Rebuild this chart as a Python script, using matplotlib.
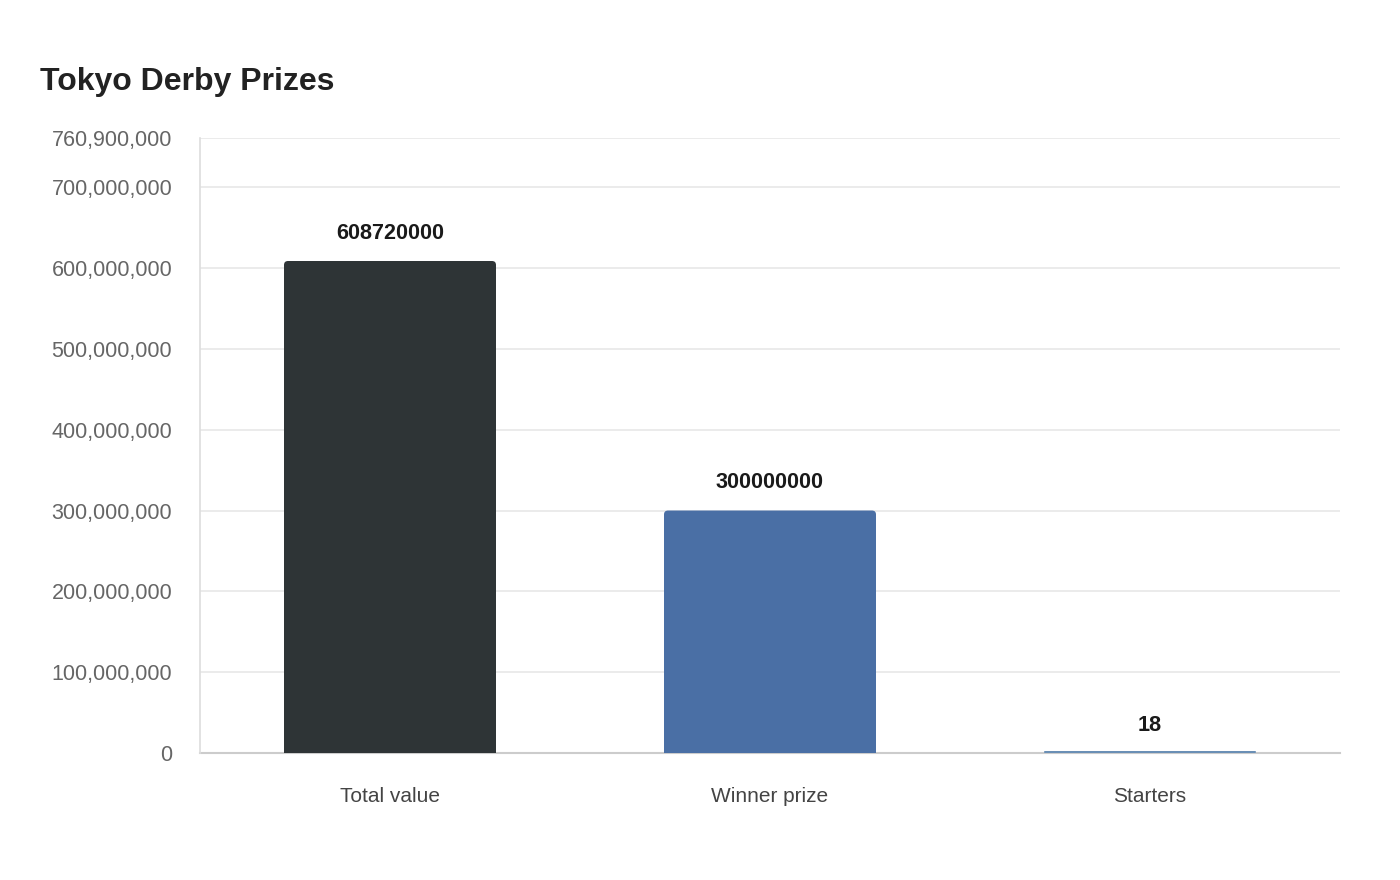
import matplotlib
matplotlib.use("Agg")
import matplotlib.pyplot as plt
from matplotlib.ticker import FuncFormatter
from matplotlib.patches import FancyBboxPatch

categories = ["Total value", "Winner prize", "Starters"]
values = [608720000, 300000000, 18]
colors = ["#2e3436", "#4a6fa5", "#6a8fb5"]
yticks = [0, 100000000, 200000000, 300000000, 400000000, 500000000, 600000000, 700000000, 760900000]
y_max = 760900000
title = "Tokyo Derby Prizes"

plt.rcParams['font.family'] = ['Liberation Sans', 'DejaVu Sans']

fig = plt.figure(figsize=(14, 8.8), dpi=100)
ax_w_px, ax_h_px = 1140, 615
ax = fig.add_axes([200/1400, 1-753/880, ax_w_px/1400, ax_h_px/880])

x = list(range(len(categories)))
bar_w = 212/380
bars = ax.bar(x, values, width=bar_w, color=colors, zorder=3)
ax.set_xlim(-0.5, 2.5)
ax.set_ylim(0, y_max)

# replace bars with slightly rounded boxes
x_per_px = 3.0 / ax_w_px
y_per_px = y_max / ax_h_px
for b, c in zip(bars, colors):
    b.set_visible(False)
    h = max(b.get_height(), 2 * y_per_px)
    p = FancyBboxPatch((b.get_x(), 0), b.get_width(), h,
                       boxstyle=f"round,pad=0,rounding_size={min(4 * x_per_px, h / 2 * x_per_px / y_per_px)}",
                       mutation_aspect=y_per_px / x_per_px,
                       facecolor=c, edgecolor='none', zorder=3)
    ax.add_patch(p)
    # square off bottom corners
    if b.get_height() > 10 * y_per_px:
        ax.add_patch(plt.Rectangle((b.get_x(), 0), b.get_width(), 6 * y_per_px,
                                   facecolor=c, edgecolor='none', zorder=3))

ax.set_yticks(yticks)
ax.yaxis.set_major_formatter(FuncFormatter(lambda v, p: f"{int(round(v)):,}"))
ax.set_xticks(x)
ax.set_xticklabels(categories)

ax.grid(axis='y', color='#e8e8e8', linewidth=1.2, zorder=0)
ax.grid(axis='x', visible=False)
for s in ['top', 'right']:
    ax.spines[s].set_visible(False)
ax.spines['left'].set_color('#dddddd')
ax.spines['left'].set_linewidth(1.2)
ax.spines['bottom'].set_color('#cccccc')
ax.spines['bottom'].set_linewidth(1.5)
ax.spines['bottom'].set_zorder(2)

ax.tick_params(axis='y', length=0, pad=20, labelsize=15.5, labelcolor='#666666')
ax.tick_params(axis='x', length=0, pad=24.5, labelsize=15, labelcolor='#444444')

for xi, v in zip(x, values):
    ax.annotate(f"{v}", xy=(xi, v), xytext=(0, 20), textcoords='offset points',
                ha='center', va='center', fontsize=15.6, fontweight='bold', color='#1a1a1a')

fig.text(40/1400, 1-82/880, title, fontsize=23, fontweight='bold', color='#222222',
         ha='left', va='center')

fig.savefig("out.png", dpi=100)
